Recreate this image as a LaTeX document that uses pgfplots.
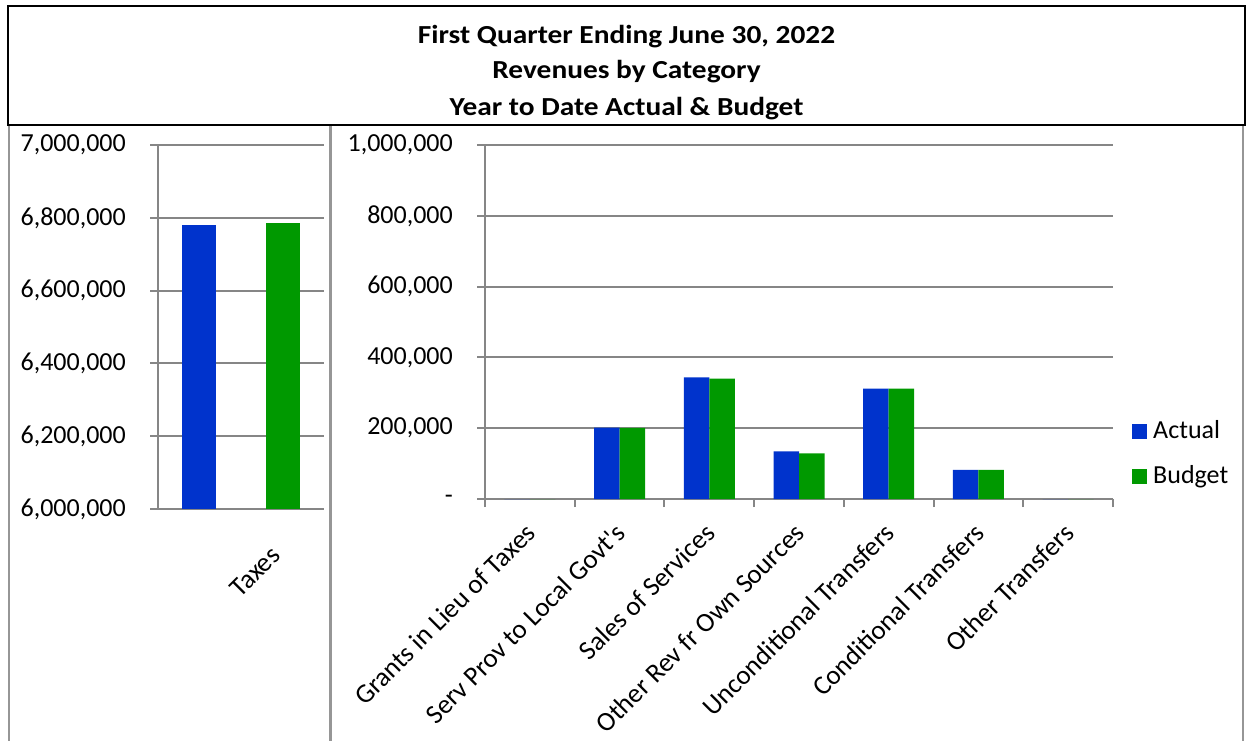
\documentclass[border=0pt]{standalone}
\usepackage{fontspec}
\setmainfont{Carlito}
\usepackage{pgfplots}
\pgfplotsset{compat=1.18}
\definecolor{actualblue}{RGB}{0,51,204}
\definecolor{budgetgreen}{RGB}{0,153,0}
\definecolor{gridgray}{RGB}{134,134,134}
\definecolor{framegray}{RGB}{150,150,150}
\newcommand{\bigf}{\fontsize{26}{31}\selectfont}
\newcommand{\labf}{\fontsize{27}{32}\selectfont}
\pgfplotsset{
  revaxis/.style={
    scale only axis,
    axis lines*=left,
    axis line style={draw=gridgray, line width=2pt},
    ymajorgrids,
    major grid style={draw=gridgray, line width=2pt},
    tick align=outside,
    major tick length=8pt,
    major y tick style={draw=gridgray, line width=2pt},
    major x tick style={draw=none},
    tick label style={font=\bigf},
    xticklabel style={font=\labf},
    yticklabel style={anchor=east, inner sep=0pt, xshift=-24pt},
    scaled y ticks=false,
    /pgf/number format/assume math mode=true,
    xtick pos=bottom, ytick pos=left,
    clip=false,
  },
}
\begin{document}
\begin{tikzpicture}
\path[use as bounding box] (0pt,0pt) rectangle (1246pt,-741pt);
% frames
\draw[framegray, line width=2pt] (8.5pt,-125pt) -- (8.5pt,-741pt);
\draw[framegray, line width=3pt] (330.5pt,-125pt) -- (330.5pt,-741pt);
\draw[framegray, line width=2pt] (1243pt,-125pt) -- (1243pt,-741pt);
% title
\begin{scope}
\clip (8pt,-6pt) rectangle (1245pt,-125pt);
\node[anchor=base, font=\bigf\bfseries, inner sep=0pt, xscale=1.13] at (626.5pt,-43.3pt) {First Quarter Ending June 30, 2022};
\node[anchor=base, font=\bigf\bfseries, inner sep=0pt, xscale=1.13] at (626.5pt,-79pt) {Revenues by Category};
\node[anchor=base, font=\bigf\bfseries, inner sep=0pt, xscale=1.13] at (626.5pt,-115.5pt) {Year to Date Actual \& Budget};
\end{scope}
\draw[black, line width=1.5pt] (8pt,-6pt) rectangle (1245pt,-125pt);

% left axis: Taxes
\begin{axis}[revaxis,
  at={(158pt,-509pt)}, anchor=south west,
  width=166pt, height=364pt,
  xmin=-0.5, xmax=0.5,
  ymin=6000000, ymax=7000000,
  ytick={6000000,6200000,6400000,6600000,6800000,7000000},
  yticklabels={{6,000,000},{6,200,000},{6,400,000},{6,600,000},{6,800,000},{7,000,000}},
  xtick={0}, xticklabels={Taxes},
  xticklabel style={anchor=east, inner sep=0pt, xshift=35pt, yshift=-34pt, rotate=45},
  ybar=50pt, bar width=34pt,
]
\addplot[fill=actualblue, draw=none] coordinates {(0,6779000)};
\addplot[fill=budgetgreen, draw=none] coordinates {(0,6784500)};
\end{axis}

% right axis
\begin{axis}[revaxis,
  at={(485pt,-499pt)}, anchor=south west,
  width=628pt, height=354pt,
  xmin=-0.5, xmax=6.5,
  ymin=0, ymax=1000000,
  ytick={0,200000,400000,600000,800000,1000000},
  yticklabels={{-\hspace{27pt}},{200,000},{400,000},{600,000},{800,000},{1,000,000}},
  xtick={0,1,2,3,4,5,6},
  xticklabels={Grants in Lieu of Taxes,Serv Prov to Local Govt\textquotesingle s,Sales of Services,Other Rev fr Own Sources,Unconditional Transfers,Conditional Transfers,Other Transfers},
  xticklabel style={anchor=east, inner sep=0pt, xshift=1pt, yshift=-21pt, rotate=45},
  minor xtick={-0.5,0.5,1.5,2.5,3.5,4.5,5.5,6.5},
  minor tick length=8pt,
  minor x tick style={draw=gridgray, line width=2pt},
  ybar=0pt, bar width=25.5pt,
  legend style={draw=none, fill=none, font=\bigf, inner sep=0pt,
    legend cell align=left, row sep=22pt,
    nodes={inner sep=0pt, text height=18pt, text depth=5pt}},
  legend style={at={(axis description cs:1.0303,0.126)}, anchor=west},
]
\addplot[fill=actualblue, draw=none,
  legend image code/.code={\fill[actualblue] (0pt,-7.5pt) rectangle (15pt,7.5pt); \path (21pt,0pt);}]
  coordinates {(0,0) (1,201500) (2,343800) (3,134700) (4,311800) (5,82000) (6,0)};
\addplot[fill=budgetgreen, draw=none,
  legend image code/.code={\fill[budgetgreen] (0pt,-7.5pt) rectangle (15pt,7.5pt); \path (21pt,0pt);}]
  coordinates {(0,0) (1,201000) (2,339800) (3,129000) (4,311800) (5,82000) (6,0)};
\legend{Actual,Budget}
\end{axis}
\end{tikzpicture}
\end{document}
